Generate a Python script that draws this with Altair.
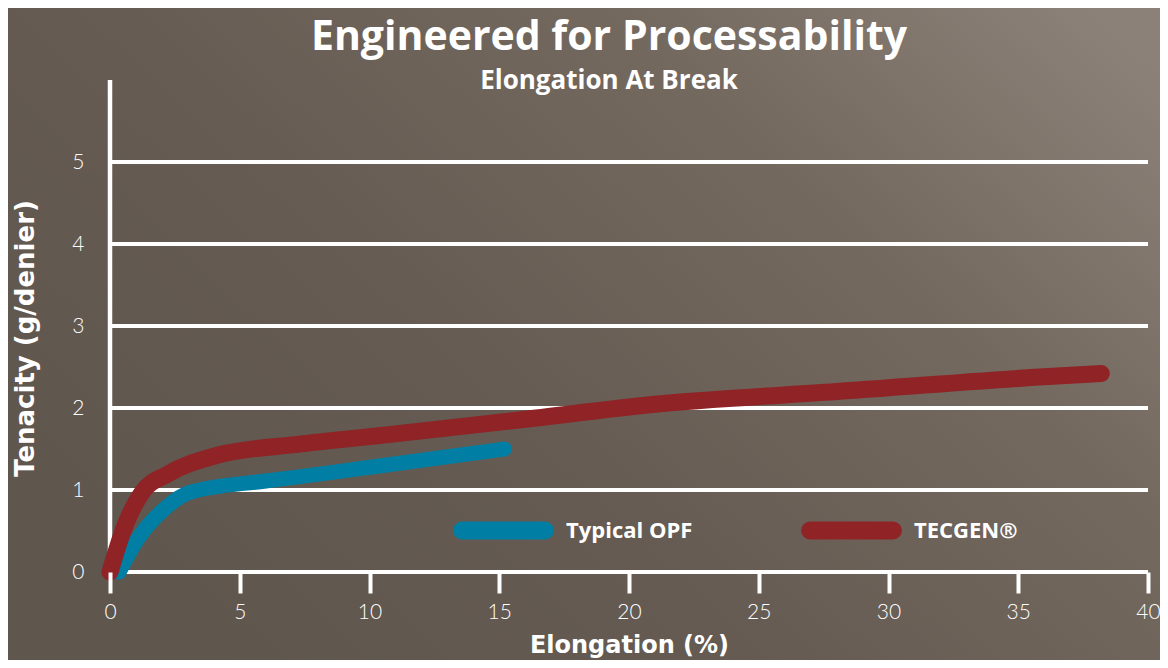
import altair as alt
import pandas as pd

# ---- data ----
opf_x = [0.35, 1.02, 2.17, 3.06, 6.0, 7.27, 10.3, 15.2]
opf_y = [0.0, 0.38, 0.79, 0.97, 1.11, 1.16, 1.29, 1.50]

tec_x = [0.0, 0.5, 1.26, 2.2, 4.1, 7.3, 10.3, 16.1, 20.8, 28.0, 36.0, 38.2]
tec_y = [0.0, 0.5, 0.98, 1.19, 1.42, 1.56, 1.66, 1.865, 2.04, 2.20, 2.38, 2.42]

series_names = ["Typical OPF", "TECGEN®"]
series_colors = ["#007ea3", "#8f2326"]

x_ticks = [0, 5, 10, 15, 20, 25, 30, 35, 40]
y_ticks = [0, 1, 2, 3, 4, 5]
grid_vals = [0, 1, 2, 3, 4, 5]

W, H = 1038, 492
PAD = {"left": 102, "top": 72, "right": 12, "bottom": 88}

opf_df = pd.DataFrame({"x": opf_x, "y": opf_y, "series": series_names[0], "i": range(len(opf_x))})
tec_df = pd.DataFrame({"x": tec_x, "y": tec_y, "series": series_names[1], "i": range(len(tec_x))})
grid_df = pd.DataFrame({"gx0": 0, "gx1": 40, "v": grid_vals})
yline_df = pd.DataFrame({"x": [0], "y0": [0], "y1": [6]})

xs = alt.Scale(domain=[0, 40], nice=False, zero=False)
ys = alt.Scale(domain=[0, 6], nice=False, zero=False)

TITLE_FONT = "DejaVu Sans"

x_axis = alt.Axis(
    values=x_ticks, title="Elongation (%)", domain=False, grid=False, ticks=True,
    tickSize=21, tickWidth=4, tickColor="white", labelPadding=8, labelFlush=False,
    labelFont="Lato", labelFontWeight=300, labelFontSize=21, labelColor="white",
    titleFont=TITLE_FONT, titleFontWeight="bold", titleFontSize=24, titleColor="white",
    titleY=73, titleBaseline="middle", zindex=1,
)
y_axis = alt.Axis(
    values=y_ticks, title="Tenacity (g/denier)", domain=False, grid=False, ticks=False,
    labelPadding=26, labelFont="Lato", labelFontWeight=300, labelFontSize=21,
    labelColor="white", titleFont=TITLE_FONT, titleFontWeight="bold", titleFontSize=26,
    titleColor="white", titleX=-85, titleY=258, titleAngle=270, titleAlign="center",
    titleBaseline="middle", zindex=1,
)

bg = alt.Chart(pd.DataFrame({"a": [0]})).mark_rect(
    fill=alt.LinearGradient(
        gradient="linear",
        stops=[
            alt.GradientStop(color="#5f564e", offset=0),
            alt.GradientStop(color="#655b52", offset=0.35),
            alt.GradientStop(color="#74695f", offset=0.7),
            alt.GradientStop(color="#8b8178", offset=1),
        ],
        x1=0, y1=0.7, x2=1, y2=0.1,
    )
).encode(
    x=alt.value(-PAD["left"]), x2=alt.value(W + PAD["right"]),
    y=alt.value(-PAD["top"]), y2=alt.value(H + PAD["bottom"]),
)

grid = alt.Chart(grid_df).mark_rule(color="white", strokeWidth=4).encode(
    x=alt.X("gx0:Q", scale=xs, axis=x_axis), x2="gx1:Q",
    y=alt.Y("v:Q", scale=ys, axis=y_axis),
)

yline = alt.Chart(yline_df).mark_rule(color="white", strokeWidth=4.5).encode(
    x=alt.X("x:Q", scale=xs, axis=x_axis),
    y=alt.Y("y0:Q", scale=ys, axis=y_axis), y2="y1:Q",
)

pill = "M-0.83,-0.09H0.83A0.09,0.09,0,0,1,0.83,0.09H-0.83A0.09,0.09,0,0,1,-0.83,-0.09Z"

color = alt.Color(
    "series:N",
    scale=alt.Scale(domain=series_names, range=series_colors),
    legend=alt.Legend(
        title=None, orient="none", legendX=339, legendY=396, direction="horizontal",
        symbolType=pill, symbolSize=10000, symbolStrokeWidth=9, symbolOpacity=1,
        labelFont="Open Sans", labelFontWeight="bold", labelFontSize=22,
        labelColor="white", labelOffset=8, columnPadding=94, padding=0,
    ),
)

def line(df, width):
    return alt.Chart(df).mark_line(
        strokeWidth=width, strokeCap="round", strokeJoin="round", interpolate="monotone"
    ).encode(
        x=alt.X("x:Q", scale=xs, axis=x_axis),
        y=alt.Y("y:Q", scale=ys, axis=y_axis),
        order="i:Q",
        color=color,
    )

chart = alt.layer(bg, grid, yline, line(opf_df, 15), line(tec_df, 17)).properties(
    width=W, height=H,
    padding=PAD,
    autosize=alt.AutoSizeParams(type="none"),
    background="#6b6158",
    title=alt.TitleParams(
        text="Engineered for Processability",
        subtitle="Elongation At Break",
        anchor="middle", frame="group", orient="top", offset=0, dx=-20, dy=87,
        font="Open Sans", fontSize=41, fontWeight="bold", color="white",
        subtitleFont="Open Sans", subtitleFontSize=26,
        subtitleFontWeight="bold", subtitleColor="white", subtitlePadding=9,
    ),
).configure_view(stroke=None)

chart.save("out.html", embed_options={"renderer": "svg", "actions": False})
